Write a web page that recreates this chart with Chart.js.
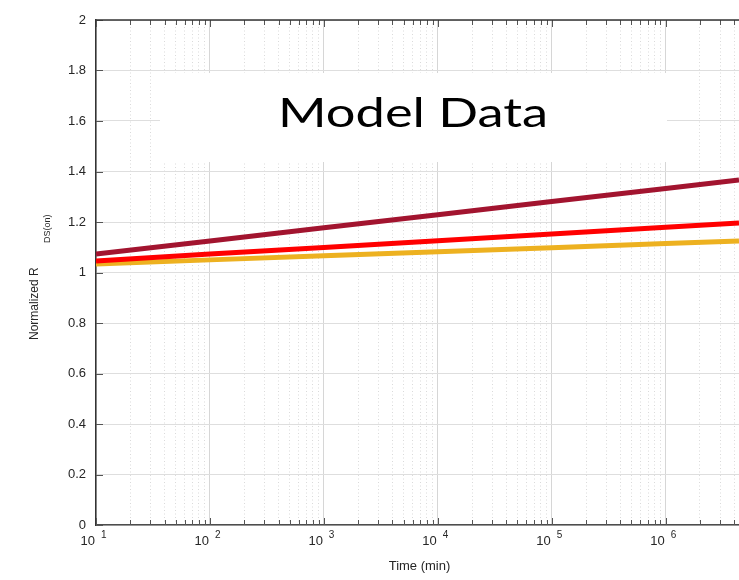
<!DOCTYPE html>
<html>
<head>
<meta charset="utf-8">
<script src="https://cdn.jsdelivr.net/npm/chart.js@4.4.0/dist/chart.umd.min.js"></script>
<style>
    body { margin: 0; background: #fff; }
    #wrap { width: 739px; height: 580px; position: relative; }
</style>
</head>
<body>
<div id="wrap"><canvas id="modelChart"></canvas></div>
<script>
"use strict";

const timeMin = [10, 100, 1000, 10000, 100000, 1000000, 4400000];
const rdsDarkRed = [1.073, 1.125, 1.177, 1.229, 1.281, 1.333, 1.366];
const rdsRed = [1.046, 1.073, 1.099, 1.126, 1.152, 1.179, 1.196];
const rdsOrange = [1.034, 1.050, 1.066, 1.082, 1.098, 1.115, 1.125];

// axis ticks
const decadeTicks = [10, 100, 1000, 10000, 100000, 1000000];
const decadeExponents = ['1', '2', '3', '4', '5', '6'];
const minorSteps = [2, 3, 4, 5, 6, 7, 8, 9];
const yTickValues = [0, 0.2, 0.4, 0.6, 0.8, 1, 1.2, 1.4, 1.6, 1.8, 2];
const xMax = 4400000;

//all vertical grid positions: decades plus 2..9 inside each decade
const xGridValues = [];
decadeTicks.forEach(d => {
    xGridValues.push(d);
    minorSteps.forEach(m => {
        if (d * m <= xMax) xGridValues.push(d * m);
    });
});

const isDecade = (v) => decadeTicks.includes(v);
const labelFont = '"Liberation Sans", Arial, sans-serif';

const toPoints = (vals) => timeMin.map((t, i) => ({ x: t, y: vals[i] }));

//draws the things chart.js can't: inner ticks, title box, superscript labels
const decorPlugin = {
    id: 'decor',
    beforeDatasetsDraw(chart) {
        const ctx = chart.ctx;
        const area = chart.chartArea;
        const xs = chart.scales.x;
        const ys = chart.scales.y;
        ctx.save();

        //white box behind the title
        ctx.fillStyle = '#ffffff';
        ctx.fillRect(area.left + 64, area.top + 53, 507, 89);

        //title, slightly stretched like the original
        ctx.fillStyle = '#000000';
        ctx.font = '41px Lato, "Open Sans", sans-serif';
        ctx.textBaseline = 'alphabetic';
        ctx.textAlign = 'left';
        const title = 'Model Data';
        const w = ctx.measureText(title).width;
        ctx.save();
        ctx.translate(278, 127);
        ctx.scale(270 / w, 1);
        ctx.fillText(title, 0, 0);
        ctx.restore();

        //inner ticks
        ctx.strokeStyle = '#555555';
        ctx.lineWidth = 1;
        ctx.beginPath();
        yTickValues.forEach(v => {
            const py = Math.round(ys.getPixelForValue(v)) + 0.5;
            ctx.moveTo(area.left, py);
            ctx.lineTo(area.left + 7, py);
        });
        xGridValues.forEach(v => {
            const px = Math.round(xs.getPixelForValue(v)) + 0.5;
            const len = isDecade(v) ? 7 : 5;
            ctx.moveTo(px, area.bottom);
            ctx.lineTo(px, area.bottom - len);
            ctx.moveTo(px, area.top);
            ctx.lineTo(px, area.top + len);
        });
        ctx.stroke();

        //top border
        ctx.strokeStyle = '#333333';
        ctx.lineWidth = 1.5;
        ctx.beginPath();
        ctx.moveTo(area.left, area.top);
        ctx.lineTo(area.right, area.top);
        ctx.stroke();
        ctx.restore();
    },
    afterDraw(chart) {
        const ctx = chart.ctx;
        const area = chart.chartArea;
        const xs = chart.scales.x;
        ctx.save();
        ctx.fillStyle = '#262626';
        ctx.textBaseline = 'alphabetic';

        //x labels as 10 with a raised exponent
        decadeTicks.forEach((d, i) => {
            const px = xs.getPixelForValue(d);
            ctx.font = '13px ' + labelFont;
            ctx.textAlign = 'right';
            ctx.fillText('10', px - 1, 545);
            ctx.font = '10px ' + labelFont;
            ctx.textAlign = 'left';
            ctx.fillText(decadeExponents[i], px + 5, 538);
        });

        //x title
        ctx.font = '13px ' + labelFont;
        ctx.textAlign = 'center';
        ctx.fillText('Time (min)', (area.left + area.right) / 2 + 2, 570);

        //y title with subscript, rotated
        ctx.save();
        ctx.translate(38, 340);
        ctx.rotate(-Math.PI / 2);
        ctx.textAlign = 'left';
        ctx.font = '12px ' + labelFont;
        ctx.fillText('Normalized R', 0, 0);
        ctx.restore();
        ctx.save();
        ctx.translate(50, 243);
        ctx.rotate(-Math.PI / 2);
        ctx.textAlign = 'left';
        ctx.font = '9px ' + labelFont;
        ctx.fillText('DS(on)', 0, 0);
        ctx.restore();

        ctx.restore();
    }
};

const ctx = document.getElementById('modelChart').getContext('2d');
const modelChart = new Chart(ctx, {
    type: 'line',
    data: {
        datasets: [
            {
                label: 'Model 1',
                data: toPoints(rdsDarkRed),
                borderColor: '#A2142F',
                backgroundColor: '#A2142F',
                borderWidth: 5,
                pointRadius: 0,
                fill: false
            },
            {
                label: 'Model 2',
                data: toPoints(rdsRed),
                borderColor: '#FF0000',
                backgroundColor: '#FF0000',
                borderWidth: 5,
                pointRadius: 0,
                fill: false
            },
            {
                label: 'Model 3',
                data: toPoints(rdsOrange),
                borderColor: '#EDB120',
                backgroundColor: '#EDB120',
                borderWidth: 5,
                pointRadius: 0,
                fill: false
            }
        ]
    },
    options: {
        responsive: true,
        maintainAspectRatio: false,
        animation: false,
        layout: {
            padding: { top: 20, right: 0, bottom: 0, left: 0 }
        },
        plugins: {
            legend: { display: false },
            tooltip: { enabled: false }
        },
        scales: {
            x: {
                type: 'logarithmic',
                min: 10,
                max: xMax,
                afterBuildTicks: (scale) => {
                    scale.ticks = xGridValues.map(v => ({ value: v }));
                },
                afterFit: (scale) => { scale.height = 55; },
                ticks: { display: false },
                grid: {
                    drawTicks: false,
                    lineWidth: 1,
                    color: (c) => (c.tick && isDecade(c.tick.value)) ? '#d6d6d6' : '#dadada'
                },
                border: {
                    color: '#4d4d4d',
                    width: 1.5,
                    dash: (c) => (c.tick && !isDecade(c.tick.value)) ? [1, 2.5] : []
                }
            },
            y: {
                type: 'linear',
                min: 0,
                max: 2,
                afterFit: (scale) => { scale.width = 96; },
                ticks: {
                    stepSize: 0.2,
                    padding: 10,
                    color: '#262626',
                    font: { family: labelFont, size: 13 },
                    callback: (v) => Number(v.toFixed(1)).toString()
                },
                grid: {
                    drawTicks: false,
                    lineWidth: 1,
                    color: '#dedede'
                },
                border: {
                    color: '#333333',
                    width: 1.5
                }
            }
        }
    },
    plugins: [decorPlugin]
});
</script>
</body>
</html>
